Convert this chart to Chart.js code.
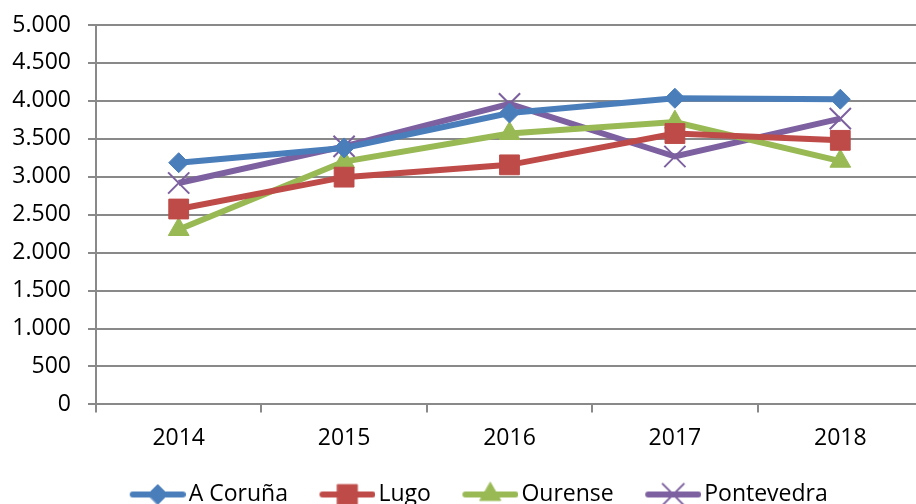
<!DOCTYPE html>
<html>
<head>
<meta charset="utf-8">
<script src="https://cdn.jsdelivr.net/npm/chart.js@4.4.0/dist/chart.umd.min.js"></script>
<style>
  html, body { margin: 0; padding: 0; background: #fff; overflow: hidden; }
  #wrap { position: relative; width: 916px; height: 504px; overflow: hidden; }
  #chart { position: absolute; left: 0; top: 0; }
</style>
</head>
<body>
<div id="wrap"><canvas id="chart" width="940" height="516"></canvas></div>
<script>
// data
const years = ['2014', '2015', '2016', '2017', '2018'];
const coruna = [3185, 3380, 3840, 4035, 4022];
const lugo = [2575, 2995, 3157, 3570, 3480];
const ourense = [2305, 3200, 3570, 3720, 3205];
const pontevedra = [2918, 3400, 3960, 3267, 3766];
const seriesNames = ['A Coruña', 'Lugo', 'Ourense', 'Pontevedra'];
const yMax = 5000;
const yStep = 500;

const colors = ['#4A7EBB', '#BE4B48', '#98B954', '#7D60A0'];
const markers = [
  { style: 'rectRot', radius: 10 },
  { style: 'rect', radius: 14 },
  { style: 'triangle', radius: 12 },
  { style: 'crossRot', radius: 15 }
];

Chart.defaults.font.family = '"Open Sans", sans-serif';
Chart.defaults.font.size = 23;
Chart.defaults.color = '#000';

// legend swatch: line with the marker on it
function swatch(i) {
  const c = document.createElement('canvas');
  c.width = 77;
  c.height = 30;
  const ctx = c.getContext('2d');
  ctx.strokeStyle = colors[i];
  ctx.fillStyle = colors[i];
  ctx.lineWidth = 6;
  ctx.lineCap = 'round';
  ctx.beginPath();
  ctx.moveTo(24, 15);
  ctx.lineTo(74, 15);
  ctx.stroke();
  ctx.lineWidth = markers[i].style === 'crossRot' ? 2 : 1;
  Chart.helpers.drawPoint(ctx, {
    pointStyle: markers[i].style,
    radius: markers[i].radius,
    rotation: 0,
    borderWidth: ctx.lineWidth
  }, 49, 15);
  return c;
}

function fmt(v) {
  return String(v).replace(/\B(?=(\d{3})+(?!\d))/g, '.');
}

const allValues = [coruna, lugo, ourense, pontevedra];

const datasets = allValues.map((vals, i) => ({
  label: seriesNames[i],
  data: vals,
  borderColor: colors[i],
  backgroundColor: colors[i],
  borderWidth: 6,
  tension: 0,
  pointStyle: markers[i].style,
  pointRadius: markers[i].radius,
  pointHoverRadius: markers[i].radius,
  pointBackgroundColor: colors[i],
  pointBorderColor: colors[i],
  pointBorderWidth: markers[i].style === 'crossRot' ? 2 : 1
}));

// the legend in the original is centred a little right of the canvas middle
const legendShift = {
  id: 'legendShift',
  afterLayout(chart) {
    chart.legend.left += 20;
  }
};

new Chart(document.getElementById('chart'), {
  type: 'line',
  data: { labels: years, datasets: datasets },
  plugins: [legendShift],
  options: {
    responsive: false,
    animation: false,
    events: [],
    layout: { padding: { left: 0, right: 15, top: 25, bottom: 0 } },
    plugins: {
      tooltip: { enabled: false },
      legend: {
        position: 'bottom',
        labels: {
          usePointStyle: true,
          pointStyleWidth: 60,
          padding: 19,
          font: { size: 23 },
          generateLabels(chart) {
            return chart.data.datasets.map((ds, i) => ({
              text: ds.label,
              pointStyle: swatch(i),
              fillStyle: colors[i],
              strokeStyle: colors[i],
              lineWidth: 0,
              hidden: false,
              datasetIndex: i
            }));
          }
        }
      }
    },
    scales: {
      x: {
        offset: true,
        grid: {
          offset: true,
          drawOnChartArea: false,
          color: '#898989',
          lineWidth: 2,
          tickLength: 8
        },
        border: { color: '#898989', width: 2 },
        ticks: { padding: 12, maxRotation: 0 }
      },
      y: {
        min: 0,
        max: yMax,
        afterFit(scale) {
          scale.width = 96;
          scale.paddingTop = 0;
          scale.paddingBottom = 0;
        },
        grid: {
          color: '#898989',
          lineWidth: 2,
          tickLength: 8
        },
        border: { color: '#898989', width: 2 },
        ticks: {
          stepSize: yStep,
          padding: 17,
          callback: v => fmt(v)
        }
      }
    }
  }
});
</script>
</body>
</html>
